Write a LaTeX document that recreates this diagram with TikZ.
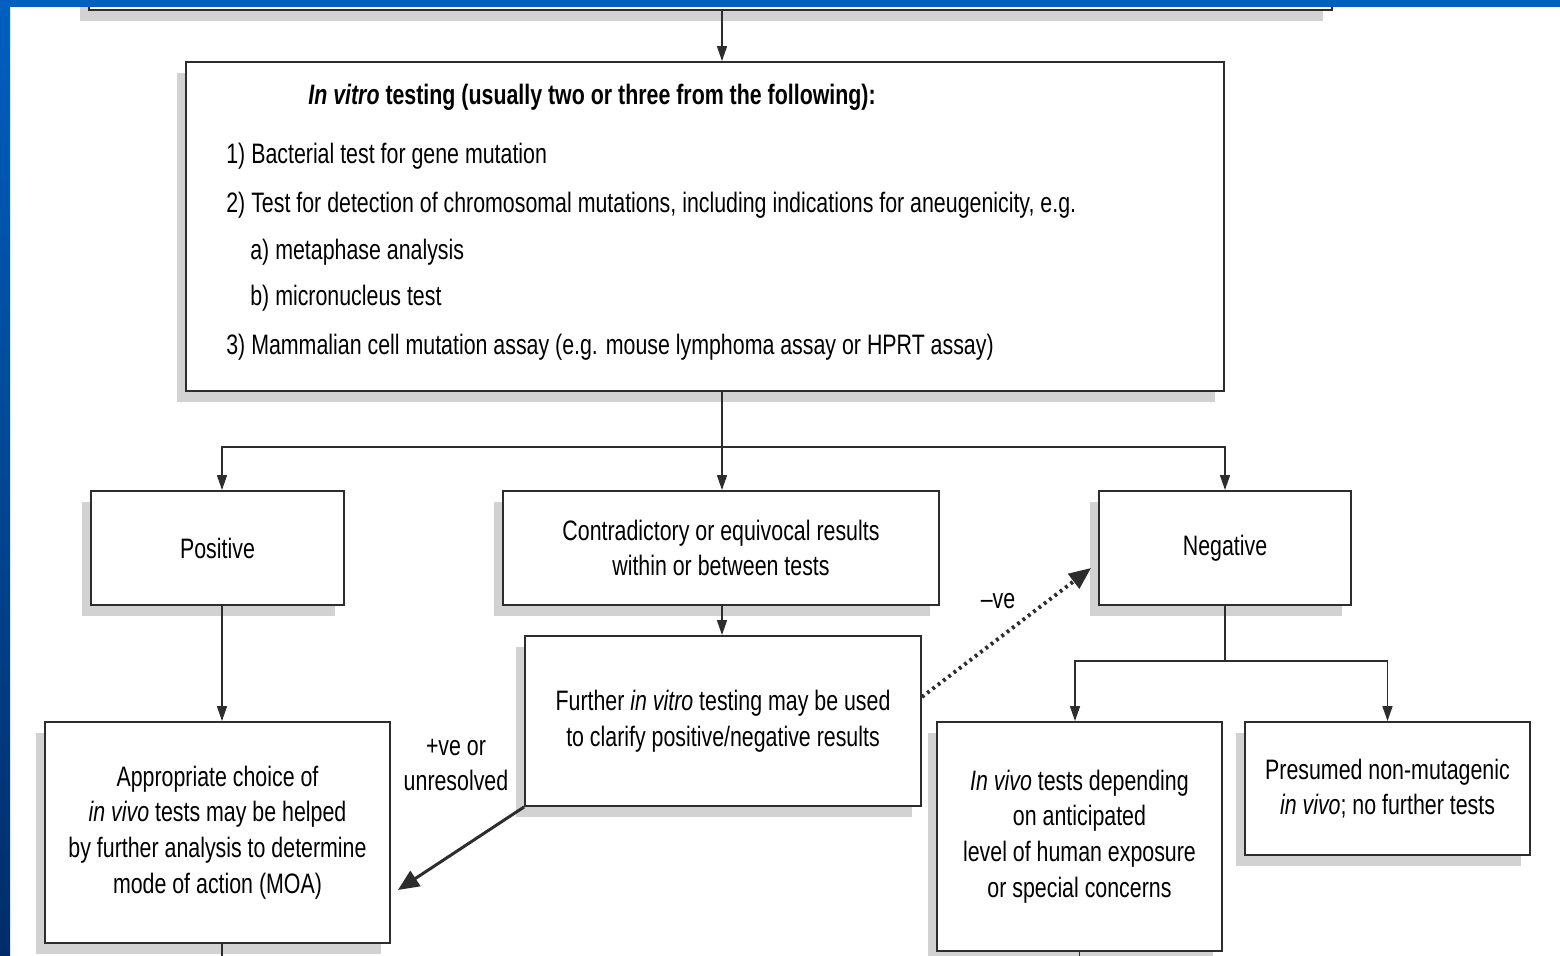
\documentclass[tikz,border=0pt]{standalone}
\usepackage{fontspec}
\setmainfont{Liberation Sans}[FakeStretch=0.76]
\usetikzlibrary{arrows.meta,shadows}
\definecolor{slideblue}{RGB}{0,96,192}
\definecolor{slidenavy}{RGB}{0,45,105}
\definecolor{boxline}{RGB}{45,45,45}
\definecolor{shadowgray}{RGB}{210,210,210}
\tikzset{
  blk/.style={draw=boxline, line width=1.1pt, fill=white, align=center,
    font=\fontsize{16}{20.3}\selectfont, inner sep=0pt,
    drop shadow={shadow xshift=-0.18cm, shadow yshift=-0.22cm, fill=shadowgray, opacity=1}},
  lbl/.style={font=\fontsize{16}{20.3}\selectfont, align=center, inner sep=0pt},
  arr/.style={draw=boxline, line width=0.9pt, -{Triangle[length=0.3cm,width=0.2cm]}},
  thk/.style={draw=boxline, line width=1.7pt, -{Triangle[length=0.42cm,width=0.36cm]}},
  dotarr/.style={draw=boxline, line width=2.2pt, dash pattern=on 1.6pt off 2.2pt,
    -{Triangle[length=0.44cm,width=0.36cm]}},
}
\begin{document}
\begin{tikzpicture}[x=0.02cm, y=-0.02cm]
  \useasboundingbox (0,0) rectangle (1560,956);
  \clip (0,0) rectangle (1560,956);
  \fill[white] (0,0) rectangle (1560,956);

  \node[blk, minimum width=24.86cm, minimum height=1.4cm] (prev) at (710.5,-25) {};
  \node[blk, minimum width=20.76cm, minimum height=6.58cm] (vitro) at (705,226.5) {};
  \node[lbl, anchor=base west, font=\fontsize{16}{20.3}\selectfont\bfseries] (vt0) at (308,105) {\textit{In vitro} testing (usually two or three from the following):};
  \foreach \xx/\yy/\tx [count=\i] in {226/164/{1) Bacterial test for gene mutation},
      226/213/{2) Test for detection of chromosomal mutations, including indications for aneugenicity, e.g.},
      250/260/{a) metaphase analysis},
      250/306/{b) micronucleus test},
      226/355/{3) Mammalian cell mutation assay (e.g. mouse lymphoma assay or HPRT assay)}}
    \node[lbl, anchor=base west] (vt\i) at (\xx,\yy) {\tx};

  \node[blk, minimum width=5.06cm, minimum height=2.28cm] (pos) at (217.5,548) {Positive};
  \node[blk, minimum width=8.72cm, minimum height=2.28cm] (contra) at (721,548) {Contradictory or equivocal results\\within or between tests};
  \node[blk, minimum width=5.04cm, minimum height=2.28cm] (neg) at (1225,548) {Negative};
  \node[blk, minimum width=7.92cm, minimum height=3.4cm] (further) at (723,721) {Further \textit{in vitro} testing may be used\\to clarify positive/negative results};
  \node[blk, minimum width=6.9cm, minimum height=4.42cm] (moa) at (217.5,832.5) {Appropriate choice of\\\textit{in vivo} tests may be helped\\by further analysis to determine\\mode of action (MOA)};
  \node[blk, minimum width=5.7cm, minimum height=4.58cm] (invivo) at (1079.5,836.5) {\textit{In vivo} tests depending\\on anticipated\\level of human exposure\\or special concerns};
  \node[blk, minimum width=5.7cm, minimum height=2.66cm] (presumed) at (1387.5,788.5) {Presumed non-mutagenic\\\textit{in vivo}; no further tests};

  \coordinate (fork) at (722,447);
  \coordinate (fork2) at (1224,661);
  \coordinate (moaout) at (222,990);
  \coordinate (vivoout) at (1079,990);
  \draw[arr] (prev.south -| fork) -- (vitro.north -| fork);
  \draw[arr] (vitro.south -| fork) -- (contra.north -| fork);
  \draw[arr] (fork) -| ([xshift=0.09cm]pos.north);
  \draw[arr] (fork) -| (neg.north);
  \draw[arr] ([xshift=0.09cm]pos.south) -- ([xshift=0.09cm]moa.north);
  \draw[arr] (contra.south -| fork) -- (further.north -| fork);
  \draw[boxline, line width=0.9pt] (neg.south) -- (neg.south |- fork2);
  \draw[arr] (neg.south |- fork2) -| ([xshift=-0.09cm]invivo.north);
  \draw[arr] (neg.south |- fork2) -| (presumed.north);
  \draw[thk] (further.south west) -- ([xshift=0.14cm,yshift=-1.15cm]moa.east);
  \draw[dotarr] ([yshift=0.48cm]further.east) -- ([xshift=-0.14cm,yshift=-0.4cm]neg.west);
  \node[lbl] (minusve) at (998,601) {--ve};
  \node[lbl] (plusve) at (456,765) {+ve or\\unresolved};
  \draw[boxline, line width=0.9pt] ([xshift=0.09cm]moa.south) -- ([xshift=0.09cm]moa.south |- moaout);
  \draw[boxline, line width=0.9pt] (invivo.south) -- (invivo.south |- vivoout);

  \shade[top color=slideblue, bottom color=slidenavy] (0,0) rectangle (10,956);
  \fill[slideblue] (0,0) rectangle (1560,7);
\end{tikzpicture}
\end{document}
